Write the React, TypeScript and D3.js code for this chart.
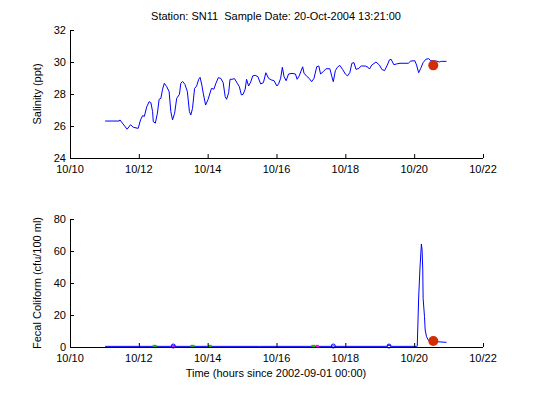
import * as d3 from "d3";

// salinity record, time in day-of-October
const salDay = [
  11.02, 11.43, 11.45, 11.66, 11.76, 11.84, 11.98, 12.05, 12.11, 12.16, 12.23, 12.3, 12.35, 12.4,
  12.42, 12.48, 12.54, 12.59, 12.64, 12.69, 12.74, 12.81, 12.88, 12.93, 12.98, 13.04, 13.1, 13.18,
  13.22, 13.27, 13.34, 13.41, 13.47, 13.51, 13.56, 13.62, 13.68, 13.74, 13.78, 13.83, 13.87, 13.94,
  14.01, 14.11, 14.18, 14.24, 14.31, 14.38, 14.45, 14.51, 14.55, 14.61, 14.65, 14.71, 14.78, 14.86,
  14.92, 14.98, 15.03, 15.09, 15.13, 15.19, 15.25, 15.31, 15.38, 15.46, 15.54, 15.62, 15.69, 15.77,
  15.85, 15.93, 16.01, 16.06, 16.12, 16.17, 16.22, 16.28, 16.35, 16.45, 16.55, 16.6, 16.66, 16.76,
  16.8, 16.88, 16.95, 17.02, 17.09, 17.17, 17.23, 17.28, 17.36, 17.44, 17.55, 17.61, 17.65, 17.71,
  17.77, 17.84, 17.92, 18.0, 18.06, 18.13, 18.19, 18.25, 18.31, 18.39, 18.46, 18.58, 18.66, 18.7,
  18.77, 18.89, 18.99, 19.06, 19.14, 19.22, 19.28, 19.33, 19.41, 19.49, 19.59, 19.83, 19.9, 20.02,
  20.07, 20.13, 20.19, 20.26, 20.34, 20.42, 20.48, 20.65, 20.73, 20.79, 20.94,
];
const salValue = [
  26.31, 26.31, 26.38, 25.8, 26.08, 25.92, 25.85, 26.38, 26.65, 26.6, 27.2, 27.52, 27.46, 26.9,
  26.27, 26.18, 26.8, 27.67, 27.73, 28.3, 28.67, 28.46, 28.15, 26.9, 26.38, 26.8, 27.73, 27.98,
  28.67, 28.79, 28.6, 28.15, 26.9, 26.69, 27.1, 28.35, 28.5, 28.92, 29.04, 28.56, 28.06, 27.31,
  27.65, 28.35, 28.3, 28.67, 29.02, 28.98, 28.71, 27.83, 27.67, 28.08, 28.92, 28.92, 28.96, 28.67,
  28.46, 27.94, 27.98, 28.3, 28.92, 28.5, 28.75, 29.13, 29.17, 29.08, 28.63, 28.71, 29.33, 28.98,
  28.88, 28.83, 28.5, 28.63, 28.98, 29.67, 29.08, 28.83, 29.25, 29.29, 29.25, 28.92, 29.13, 29.7,
  29.3, 29.1, 28.98, 28.77, 28.98, 29.71, 29.75, 29.25, 29.4, 29.58, 29.58, 29.08, 28.77, 29.46,
  29.67, 29.79, 29.54, 29.25, 29.13, 29.33, 29.92, 29.96, 29.54, 29.6, 29.75, 29.75, 29.67, 29.56,
  29.81, 30.0, 29.81, 29.54, 29.46, 29.81, 30.13, 30.17, 29.83, 29.88, 29.92, 29.92, 30.06, 30.08,
  29.81, 29.33, 29.6, 29.96, 30.17, 30.21, 30.08, 30.06, 30.0, 30.04, 30.04,
];

// fecal coliform record
const fcDay = [
  11.02, 12.0, 12.95, 13.0, 13.05, 14.0, 15.5, 17.6, 17.65, 17.7, 19.2, 19.27, 19.34, 20.07,
  20.09, 20.13, 20.17, 20.21, 20.23, 20.25, 20.26, 20.3, 20.32, 20.36, 20.42, 20.67, 20.94,
];
const fcValue = [
  0.4, 0.4, 0.4, 0.9, 0.4, 0.4, 0.4, 0.4, 0.7, 0.4, 0.4, 1.2, 0.4, 0.4,
  0.5, 30.6, 50, 64.4, 60.6, 48, 30.4, 19, 10.6, 6.4, 4, 3.3, 2.9,
];

// small sample markers along the coliform baseline
const greenDays = [12.46, 13.56, 14.06, 17.07];
const magentaDays = [13.0, 17.17];
const ringDays = [13.0, 17.65, 19.27];

const sampleDay = 20.556;
const sampleSal = 29.79;
const sampleFc = 3.75;

const dayTicks = [10, 12, 14, 16, 18, 20, 22];
const salTicks = [24, 26, 28, 30, 32];
const fcTicks = [0, 20, 40, 60, 80];

const FONT = "'Liberation Sans', Arial, sans-serif";

interface PanelProps {
  y: d3.ScaleLinear<number, number>;
  yTicks: number[];
  days: number[];
  values: number[];
  yLabel: string;
  dotValue: number;
  children?: React.ReactNode;
}

const x = d3.scaleLinear().domain([10, 22]).range([70, 483]);

function Panel({ y, yTicks, days, values, yLabel, dotValue, children }: PanelProps) {
  const [y0, y1] = y.range();
  const [x0, x1] = x.range();
  const pts = days.map((d, i) => [d, values[i]] as [number, number]);
  const line = d3
    .line<[number, number]>()
    .x((p) => x(p[0]))
    .y((p) => y(p[1]));
  const midY = (y0 + y1) / 2;

  return (
    <g>
      <path d={line(pts) ?? ""} fill="none" stroke="#0000ff" strokeWidth={1} />
      {children}
      <circle cx={x(sampleDay)} cy={y(dotValue)} r={5} fill="#d42e00" />
      <line x1={x0} x2={x1} y1={y0 + 0.5} y2={y0 + 0.5} stroke="#000" />
      <line x1={x0 + 0.5} x2={x0 + 0.5} y1={y0} y2={y1} stroke="#000" />
      {dayTicks.map((d) => (
        <g key={d}>
          <line x1={x(d) + 0.5} x2={x(d) + 0.5} y1={y0} y2={y0 - 4} stroke="#000" />
          <text x={x(d)} y={y0 + 15} textAnchor="middle" fontSize={11} fontFamily={FONT}>
            {`10/${d}`}
          </text>
        </g>
      ))}
      {yTicks.map((t) => (
        <g key={t}>
          <line x1={x0} x2={x0 + 4} y1={y(t) + 0.5} y2={y(t) + 0.5} stroke="#000" />
          <text x={x0 - 4} y={y(t) + 4} textAnchor="end" fontSize={11} fontFamily={FONT}>
            {t}
          </text>
        </g>
      ))}
      <text
        transform={`translate(41,${midY}) rotate(-90)`}
        textAnchor="middle"
        fontSize={11}
        fontFamily={FONT}
      >
        {yLabel}
      </text>
    </g>
  );
}

export default function App() {
  const ySal = d3.scaleLinear().domain([24, 32]).range([158, 30]);
  const yFc = d3.scaleLinear().domain([0, 80]).range([347, 219]);

  return (
    <svg
      width={533}
      height={399}
      style={{ position: "absolute", left: 0, top: 0, background: "#fff" }}
    >
      <text x={276} y={20} textAnchor="middle" fontSize={11} fontFamily={FONT} xmlSpace="preserve">
        {"Station: SN11  Sample Date: 20-Oct-2004 13:21:00"}
      </text>
      <Panel
        y={ySal}
        yTicks={salTicks}
        days={salDay}
        values={salValue}
        yLabel="Salinity (ppt)"
        dotValue={sampleSal}
      />
      <Panel
        y={yFc}
        yTicks={fcTicks}
        days={fcDay}
        values={fcValue}
        yLabel="Fecal Coliform (cfu/100 ml)"
        dotValue={sampleFc}
      >
        {greenDays.map((d) => (
          <rect key={`g${d}`} x={x(d) - 2} y={yFc(0.4) - 1.5} width={4} height={3} fill="#00c000" />
        ))}
        {magentaDays.map((d) => (
          <rect key={`m${d}`} x={x(d) - 1} y={yFc(0.4) - 1.5} width={3} height={3} fill="#ff00ff" />
        ))}
        {ringDays.map((d) => (
          <circle key={`r${d}`} cx={x(d)} cy={yFc(0.6)} r={2} fill="none" stroke="#0000ff" strokeWidth={1} />
        ))}
      </Panel>
      <text x={276} y={377} textAnchor="middle" fontSize={11} fontFamily={FONT}>
        Time (hours since 2002-09-01 00:00)
      </text>
    </svg>
  );
}
